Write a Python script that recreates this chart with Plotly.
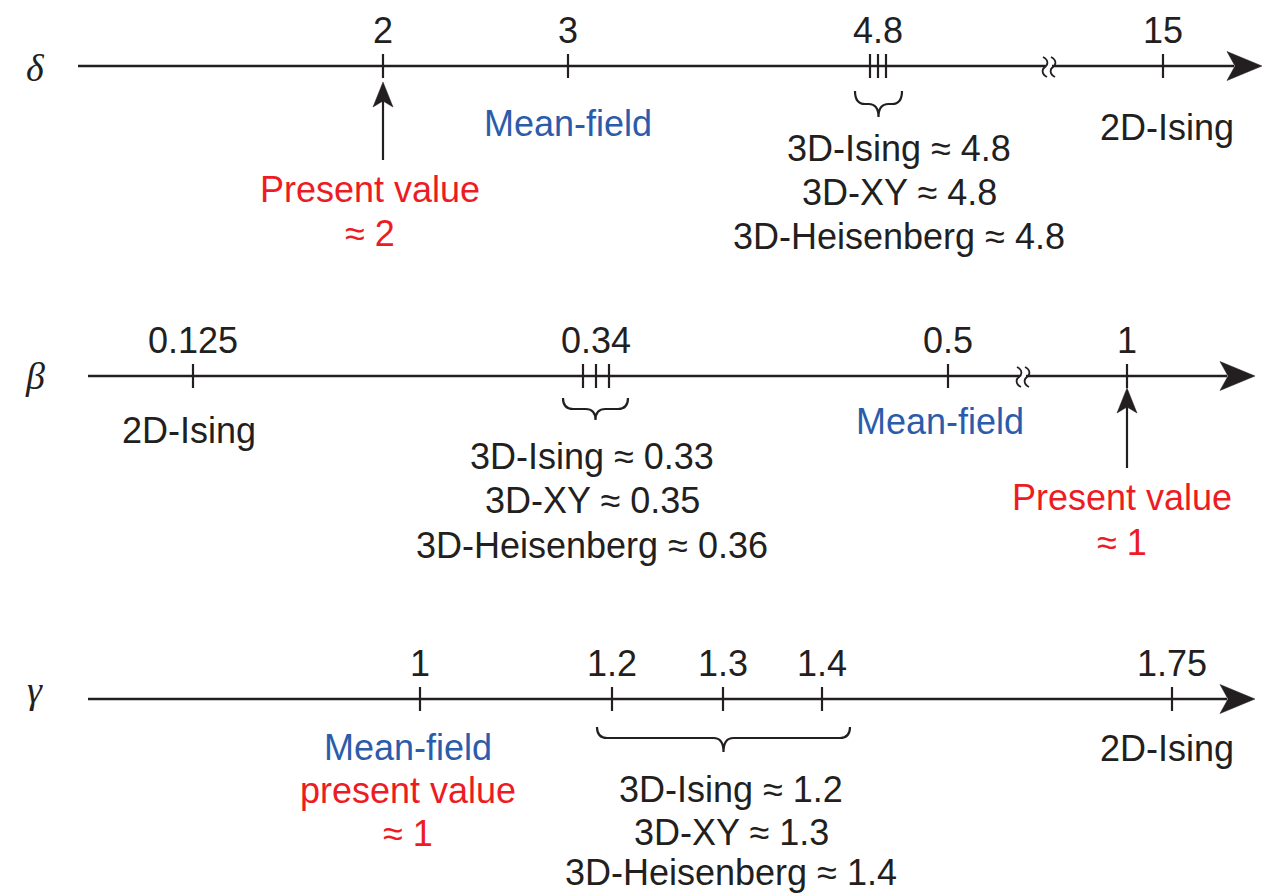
import numpy as np
import plotly.graph_objects as go

# ---------------- data ----------------
exponents = ["δ", "β", "γ"]
delta_ticks = [2, 3, 4.8, 15]
beta_ticks = [0.125, 0.34, 0.5, 1]
gamma_ticks = [1, 1.2, 1.3, 1.4, 1.75]
models_3d = ["3D-Ising", "3D-XY", "3D-Heisenberg"]
delta_3d = [4.8, 4.8, 4.8]
beta_3d = [0.33, 0.35, 0.36]
gamma_3d = [1.2, 1.3, 1.4]
present_values = [2, 1, 1]
mean_field_values = [3, 0.5, 1]
ising2d_values = [15, 0.125, 1.75]

# ---------------- schematic layout (pixel frame) ----------------
W, H = 1273, 894
BLACK = "#231f20"
BLUE = "#2b5cab"
RED = "#ed1c24"
SANS = "Liberation Sans, Arial, Helvetica, sans-serif"
SERIF = "Liberation Serif, Times New Roman, serif"
FS = 36

rows = [
    dict(sym=exponents[0], ticks=delta_ticks, models=delta_3d, y=66, x0=78, tip=1262,
         brk=1049, anchors=([2, 3, 4.8, 15], [383, 568, 878, 1163]),
         cluster=4.8, cl_gap=8, brace=(855, 902, 91, 104, 117),
         mf_y=123, is_y=127, m_y=[148, 192, 236], m_x=899,
         pv=present_values[0], pv_x=370, pv_y=[189, 233], arrow=(160, 82),
         mf=mean_field_values[0], is2=ising2d_values[0], is_x=1167, mf_x=568, sym_y=68),
    dict(sym=exponents[1], ticks=beta_ticks, models=beta_3d, y=376, x0=88, tip=1255,
         brk=1023, anchors=([0.125, 0.34, 0.5, 1], [193, 596, 948, 1127]),
         cluster=0.34, cl_gap=13, brace=(563, 628, 398, 409, 420),
         mf_y=421, is_y=430, m_y=[456, 500, 545], m_x=592,
         pv=present_values[1], pv_x=1122, pv_y=[497, 542], arrow=(468, 388),
         mf=mean_field_values[1], is2=ising2d_values[1], is_x=189, mf_x=940, sym_y=376),
    dict(sym=exponents[2], ticks=gamma_ticks, models=gamma_3d, y=699, x0=88, tip=1255,
         brk=None, anchors=([1, 1.2, 1.3, 1.4, 1.75], [420, 612, 723, 822, 1172]),
         cluster=None, cl_gap=0, brace=(597, 850, 727, 738, 752),
         mf_y=747, is_y=748, m_y=[789, 832, 872], m_x=731,
         pv=present_values[2], pv_x=408, pv_y=[790, 833], arrow=None,
         mf=mean_field_values[2], is2=ising2d_values[2], is_x=1167, mf_x=408, sym_y=690),
]

shapes = []
annotations = []


def fmt(v):
    return f"{v:g}"


def line(x0, y0, x1, y1, w=2.2, color=BLACK):
    shapes.append(dict(type="line", x0=x0, y0=y0, x1=x1, y1=y1, xref="x", yref="y",
                       line=dict(color=color, width=w)))


def path(d, fill=None, w=2.2):
    s = dict(type="path", path=d, xref="x", yref="y", line=dict(color=BLACK, width=w))
    if fill:
        s["fillcolor"] = fill
        s["line"] = dict(color=BLACK, width=0.5)
    shapes.append(s)


def text(t, x, y, color=BLACK, size=FS, family=SANS, style="normal"):
    annotations.append(dict(text=t, x=x, y=y, xref="x", yref="y", showarrow=False,
                            xanchor="center", yanchor="middle",
                            font=dict(family=family, size=size, color=color, style=style)))


for r in rows:
    y = r["y"]
    xs, ps = r["anchors"]
    to_x = lambda v, xs=xs, ps=ps: float(np.interp(v, xs, ps))
    # axis line + arrow head
    tip = r["tip"]
    line(r["x0"], y, tip - 28, y, w=2.6)
    path(f"M {tip},{y} L {tip-35},{y-14.5} L {tip-27},{y} L {tip-35},{y+14.5} Z", fill=BLACK)
    # break mark
    if r["brk"]:
        line(r["brk"] - 3, y, r["brk"] + 3, y, w=4, color="white")
        for dx in (-4, 4):
            bx = r["brk"] + dx
            path(f"M {bx-2},{y-9} C {bx+4},{y-6} {bx+3},{y-1} {bx},{y+1} "
                 f"C {bx-3},{y+3} {bx-4},{y+8} {bx+2},{y+11}", w=1.8)
    # ticks
    for v in r["ticks"]:
        x = to_x(v)
        if r["cluster"] is not None and v == r["cluster"]:
            for k in (-1, 0, 1):
                line(x + k * r["cl_gap"], y - 12, x + k * r["cl_gap"], y + 12)
        else:
            line(x, y - 12, x, y + 12)
        text(fmt(v), x, y - 36)
    # brace
    xa, xb, yt, ym, yp = r["brace"]
    xc = (xa + xb) / 2
    rr = min(10, (xb - xa) / 4)
    path(f"M {xa},{yt} Q {xa},{ym} {xa+rr},{ym} L {xc-rr},{ym} Q {xc},{ym} {xc},{yp} "
         f"Q {xc},{ym} {xc+rr},{ym} L {xb-rr},{ym} Q {xb},{ym} {xb},{yt}", w=2.2)
    # 3D model labels
    for name, val, yy in zip(models_3d, r["models"], r["m_y"]):
        text(f"{name} ≈ {fmt(val)}", r["m_x"], yy)
    # 2D Ising
    text("2D-Ising", r["is_x"], r["is_y"])
    # exponent symbol
    text(r["sym"], 35, r["sym_y"], family=SERIF, size=38, style="italic")
    # mean-field / present value
    text("Mean-field", r["mf_x"], r["mf_y"], color=BLUE)
    if r["arrow"] is not None:
        text("Present value", r["pv_x"], r["pv_y"][0], color=RED)
        text(f"≈ {fmt(r['pv'])}", r["pv_x"], r["pv_y"][1], color=RED)
        x = to_x(r["pv"])
        yb, yt2 = r["arrow"]
        line(x, yb, x, yt2 + 18, w=2.2)
        path(f"M {x},{yt2} L {x-10},{yt2+25} L {x},{yt2+19} L {x+10},{yt2+25} Z", fill=BLACK)
    else:
        text("present value", r["pv_x"], r["pv_y"][0], color=RED)
        text(f"≈ {fmt(r['pv'])}", r["pv_x"], r["pv_y"][1], color=RED)

fig = go.Figure()
fig.update_layout(
    width=W, height=H, margin=dict(l=0, r=0, t=0, b=0),
    paper_bgcolor="white", plot_bgcolor="white",
    xaxis=dict(range=[0, W], visible=False, fixedrange=True),
    yaxis=dict(range=[H, 0], visible=False, fixedrange=True),
    shapes=shapes, annotations=annotations, showlegend=False,
)
fig.write_html("out.html", config=dict(displayModeBar=False),
               post_script="document.body.style.margin='0';document.body.style.overflow='hidden';")
